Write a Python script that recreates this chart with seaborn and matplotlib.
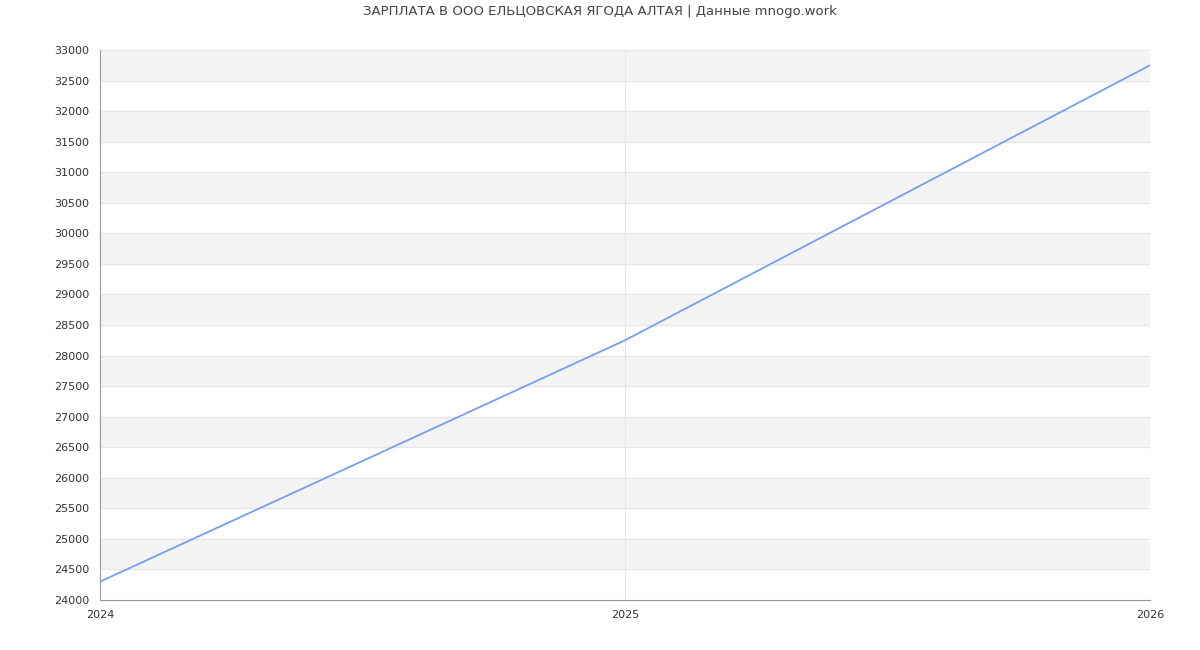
import matplotlib
matplotlib.use("Agg")
import matplotlib.pyplot as plt
import seaborn as sns
import pandas as pd

years = [2024, 2025, 2026]
salary = [24300, 28250, 32750]

sns.set_style("white")
plt.rcParams['font.family'] = ['DejaVu Sans']

fig = plt.figure(figsize=(12, 6.5), dpi=100)
ax = fig.add_axes([100/1200, 50/650, 1050/1200, 550/650])

# alternating bands
for lo in range(24500, 33000, 1000):
    ax.axhspan(lo, lo + 500, color='#f4f4f4', zorder=0)
for y in range(24500, 33001, 500):
    ax.axhline(y, color='#e6e6e6', lw=0.8, zorder=1)
ax.axvline(2025, color='#e6e6e6', lw=0.8, zorder=1)
ax.axvline(2026, color='#e6e6e6', lw=0.8, zorder=1)

df = pd.DataFrame({'year': years, 'salary': salary})
sns.lineplot(data=df, x='year', y='salary', ax=ax, color='#779ef0', lw=1.3, zorder=3)

ax.set_xlim(2024, 2026)
ax.set_ylim(24000, 33000)
ax.set_xticks(years)
ax.set_xticklabels([str(y) for y in years])
ax.set_yticks(range(24000, 33001, 500))
ax.tick_params(labelsize=8, colors='#333333', length=4, color='#999999')
ax.set_xlabel('')
ax.set_ylabel('')
for s in ['top', 'right']:
    ax.spines[s].set_visible(False)
ax.spines['left'].set_color('#999999')
ax.spines['bottom'].set_color('#999999')

fig.suptitle('ЗАРПЛАТА В ООО ЕЛЬЦОВСКАЯ ЯГОДА АЛТАЯ | Данные mnogo.work',
             y=0.992, fontsize=9.5, color='#444444')

fig.savefig('out.png', dpi=100)
